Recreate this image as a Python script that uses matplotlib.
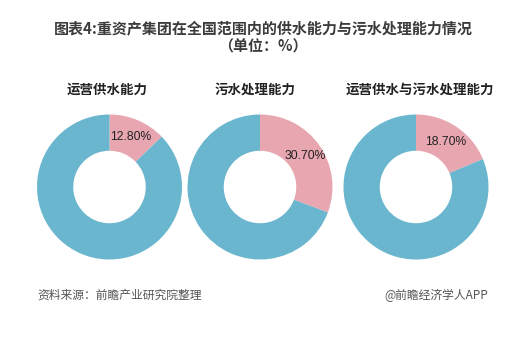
import matplotlib.pyplot as plt

plt.rcParams['font.family'] = ['Noto Sans CJK SC', 'DejaVu Sans']

titles = ['运营供水能力', '污水处理能力', '运营供水与污水处理能力']
shares = [12.8, 30.7, 18.7]
colors = ['#e8a7b0', '#6bb6cf']

fig = plt.figure(figsize=(5.26, 3.42), dpi=100)
W, H = 526, 342

fig.text(0.5, 1 - 28 / H, '图表4:重资产集团在全国范围内的供水能力与污水处理能力情况',
         ha='center', va='center', fontsize=10.8, fontweight='bold', color='#3c3c3c')
fig.text(0.5, 1 - 45 / H, '（单位：%）', ha='center', va='center',
         fontsize=10.8, fontweight='bold', color='#3c3c3c')

centers = [109.5, 260, 416]
title_x = [107, 255, 420]
r = 72.5
cy = H - 187

for cx, tx, name, val in zip(centers, title_x, titles, shares):
    ax = fig.add_axes([(cx - r) / W, (cy - r) / H, 2 * r / W, 2 * r / H])
    vals = [val, 100 - val]
    ax.pie(vals, colors=colors, startangle=90, counterclock=False,
           wedgeprops=dict(width=0.5, linewidth=0),
           autopct=lambda p: '%.2f%%' % p if p < 50 else '',
           pctdistance=0.75,
           textprops=dict(fontsize=8.7, color='#222222', family=['Liberation Sans', 'DejaVu Sans']))
    ax.set_xlim(-1, 1)
    ax.set_ylim(-1, 1)
    fig.text(tx / W, 1 - 90 / H, name, ha='center', va='center',
             fontsize=9.7, fontweight='bold', color='#222222')

fig.text(37 / W, 1 - 295 / H, '资料来源：前瞻产业研究院整理', ha='left', va='center',
         fontsize=8.5, style='italic', color='#555555')
fig.text(488 / W, 1 - 295 / H, '@前瞻经济学人APP', ha='right', va='center',
         fontsize=8.5, color='#555555')

fig.savefig('out.png', dpi=100)
